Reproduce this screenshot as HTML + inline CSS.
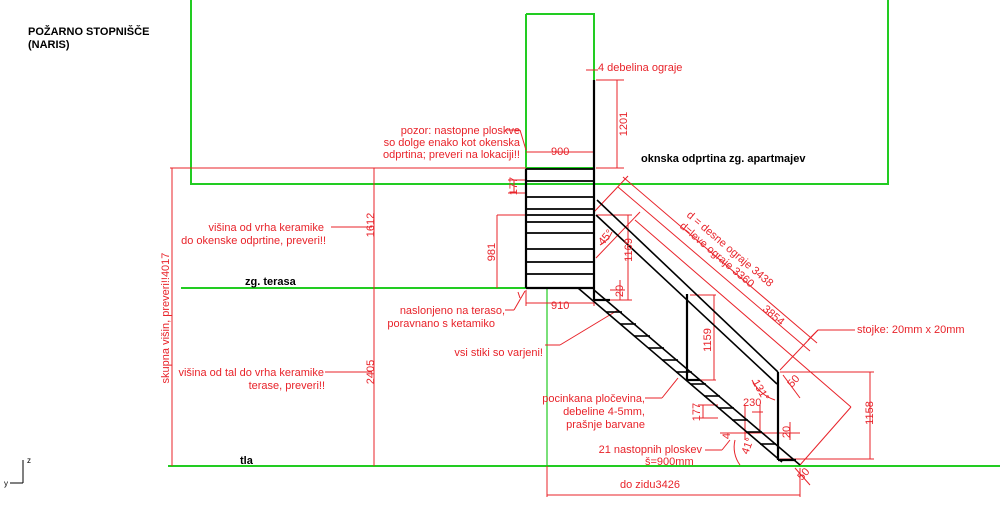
<!DOCTYPE html>
<html><head><meta charset="utf-8"><style>
html,body{margin:0;padding:0;background:#fff;}
svg{display:block;font-family:"Liberation Sans",Arial,sans-serif;}
.r{fill:#e8232a;font-size:11px;}
.b{fill:#000;font-size:11px;font-weight:bold;}
</style></head><body>
<svg width="1000" height="509" viewBox="0 0 1000 509" xmlns="http://www.w3.org/2000/svg">
<g stroke="#22cc22" stroke-width="2" fill="none">
<polyline points="191,0 191,184 888,184 888,0"/>
<polyline points="526,14 526,168 594,168 594,14 526,14"/>
<line x1="181" y1="288" x2="546" y2="288"/>
<line x1="168" y1="466" x2="1000" y2="466"/>
<line x1="547" y1="288" x2="547" y2="466" stroke-width="1.2"/>
</g>
<g stroke="#e8232a" stroke-width="1" fill="none">
<line x1="170" y1="168" x2="526" y2="168"/>
<line x1="172" y1="168" x2="172" y2="466"/>
<line x1="374" y1="168" x2="374" y2="466"/>
<line x1="331" y1="227" x2="372" y2="227"/>
<line x1="325" y1="372" x2="372" y2="372"/>
<line x1="497" y1="215" x2="526" y2="215"/>
<line x1="497" y1="215" x2="497" y2="288"/>
<line x1="508" y1="180" x2="526" y2="180"/><line x1="508" y1="193" x2="526" y2="193"/><line x1="514" y1="180" x2="514" y2="193"/>
<line x1="526" y1="152" x2="594" y2="152"/>
<line x1="596" y1="80" x2="624" y2="80"/><line x1="596" y1="168" x2="624" y2="168"/><line x1="617" y1="80" x2="617" y2="168"/>
<line x1="586" y1="70" x2="598" y2="70"/>
<line x1="505" y1="130" x2="520" y2="130"/><line x1="520" y1="130" x2="526" y2="150"/>
<line x1="526" y1="303" x2="594" y2="303"/><line x1="526" y1="290" x2="526" y2="306"/><line x1="594" y1="290" x2="594" y2="306"/>
<line x1="505" y1="310" x2="514" y2="310"/><line x1="514" y1="310" x2="525" y2="291"/>
<line x1="518" y1="292" x2="520" y2="298"/>
<line x1="597" y1="215" x2="632" y2="215"/><line x1="597" y1="300" x2="632" y2="300"/><line x1="628" y1="215" x2="628" y2="300"/>
<line x1="610" y1="290" x2="625" y2="290"/><line x1="620" y1="280" x2="620" y2="300"/>
<line x1="690" y1="295" x2="716" y2="295"/><line x1="690" y1="380" x2="716" y2="380"/><line x1="714" y1="295" x2="714" y2="380"/>
<line x1="780" y1="372" x2="874" y2="372"/><line x1="780" y1="459" x2="874" y2="459"/><line x1="870" y1="372" x2="870" y2="459"/>
<line x1="623" y1="177" x2="817" y2="343"/>
<line x1="618" y1="187" x2="810" y2="351"/>
<line x1="635" y1="220" x2="851" y2="407"/>
<line x1="851" y1="407" x2="800" y2="465"/>
<line x1="594" y1="212" x2="628" y2="176"/>
<line x1="780" y1="370" x2="818" y2="330"/>
<line x1="596" y1="258" x2="640" y2="212"/>
<line x1="855" y1="330" x2="818" y2="330"/><line x1="818" y1="330" x2="808" y2="340"/>
<line x1="545" y1="345" x2="560" y2="345"/><line x1="560" y1="345" x2="618" y2="310"/>
<line x1="645" y1="398" x2="662" y2="398"/><line x1="662" y1="398" x2="678" y2="378"/>
<line x1="705" y1="450" x2="722" y2="450"/><line x1="722" y1="450" x2="730" y2="440"/>
<line x1="752" y1="412" x2="763" y2="412"/><line x1="745" y1="405" x2="745" y2="440"/><line x1="760" y1="405" x2="760" y2="430"/>
<line x1="698" y1="405" x2="718" y2="405"/><line x1="698" y1="418" x2="718" y2="418"/><line x1="703" y1="405" x2="703" y2="418"/>
<line x1="720" y1="433" x2="800" y2="433"/>
<line x1="790" y1="422" x2="790" y2="440"/>
<line x1="547" y1="466" x2="547" y2="497"/><line x1="547" y1="495" x2="800" y2="495"/><line x1="800" y1="468" x2="800" y2="497"/>
<path d="M752 380 A40 40 0 0 0 775 400"/>
<path d="M740 465 A30 30 0 0 1 735 440"/>
<path d="M600 245 A25 25 0 0 0 612 232"/>
<line x1="783" y1="375" x2="800" y2="398"/>
<line x1="795" y1="468" x2="810" y2="485"/>
</g>
<g stroke="#000" stroke-width="2.2" fill="none">
<line x1="526" y1="169" x2="526" y2="288"/>
<line x1="594" y1="80" x2="594" y2="300"/>
<line x1="526" y1="288" x2="594" y2="288"/>
<line x1="594" y1="300" x2="610" y2="300"/>
<g stroke-width="1.8">
<line x1="526" y1="169" x2="594" y2="169"/><line x1="526" y1="181" x2="594" y2="181"/>
<line x1="526" y1="197" x2="594" y2="197"/><line x1="526" y1="209" x2="594" y2="209"/>
<line x1="526" y1="215" x2="594" y2="215"/><line x1="526" y1="222" x2="594" y2="222"/>
<line x1="526" y1="233" x2="594" y2="233"/><line x1="526" y1="249" x2="594" y2="249"/>
<line x1="526" y1="262" x2="594" y2="262"/><line x1="526" y1="274" x2="594" y2="274"/>
</g>
<line x1="597" y1="200" x2="778" y2="372" stroke-width="1.6"/>
<line x1="596" y1="215" x2="777" y2="384" stroke-width="1.6"/>
<line x1="578" y1="288" x2="782" y2="462" stroke-width="1.6"/>
<line x1="594" y1="290" x2="800" y2="465" stroke-width="1.6"/>
<line x1="687" y1="294" x2="687" y2="380"/>
<line x1="687" y1="380" x2="700" y2="380"/>
<line x1="778" y1="372" x2="778" y2="460"/>
<line x1="778" y1="460" x2="796" y2="460"/>
<g stroke-width="1.6">
<line x1="594" y1="300" x2="610" y2="300"/><line x1="606" y1="312" x2="622" y2="312"/>
<line x1="620" y1="324" x2="636" y2="324"/><line x1="634" y1="336" x2="650" y2="336"/>
<line x1="648" y1="348" x2="664" y2="348"/><line x1="662" y1="360" x2="678" y2="360"/>
<line x1="676" y1="372" x2="692" y2="372"/><line x1="690" y1="384" x2="706" y2="384"/>
<line x1="704" y1="396" x2="720" y2="396"/><line x1="718" y1="408" x2="734" y2="408"/>
<line x1="732" y1="420" x2="748" y2="420"/><line x1="746" y1="432" x2="762" y2="432"/>
<line x1="760" y1="444" x2="776" y2="444"/>
</g>
</g>
<g stroke="#000" stroke-width="1"><line x1="23" y1="460" x2="23" y2="483"/><line x1="10" y1="483" x2="23" y2="483"/></g>
<text x="27" y="463" font-size="8">z</text><text x="4" y="486" font-size="8">y</text>
<text class="b" x="28" y="35">POŽARNO STOPNIŠČE</text>
<text class="b" x="28" y="48">(NARIS)</text>
<text class="b" x="641" y="162">oknska odprtina zg. apartmajev</text>
<text class="b" x="245" y="285">zg. terasa</text>
<text class="b" x="240" y="464">tla</text>
<text class="r" x="598" y="71">4 debelina ograje</text>
<text class="r" x="627" y="124" transform="rotate(-90 627 124)" text-anchor="middle">1201</text>
<text class="r" text-anchor="end" x="520" y="134">pozor: nastopne ploskve</text>
<text class="r" text-anchor="end" x="520" y="146">so dolge enako kot okenska</text>
<text class="r" text-anchor="end" x="520" y="158">odprtina; preveri na lokaciji!!</text>
<text class="r" x="551" y="155">900</text>
<text class="r" x="517" y="186" transform="rotate(-90 517 186)" text-anchor="middle">177</text>
<text class="r" x="374" y="225" transform="rotate(-90 374 225)" text-anchor="middle">1612</text>
<text class="r" text-anchor="end" x="324" y="231">višina od vrha keramike</text>
<text class="r" text-anchor="end" x="326" y="244">do okenske odprtine, preveri!!</text>
<text class="r" x="495" y="252" transform="rotate(-90 495 252)" text-anchor="middle">981</text>
<text class="r" x="169" y="318" transform="rotate(-90 169 318)" text-anchor="middle">skupna višin, preveri!!4017</text>
<text class="r" text-anchor="end" x="505" y="314">naslonjeno na teraso,</text>
<text class="r" text-anchor="end" x="495" y="327">poravnano s ketamiko</text>
<text class="r" x="551" y="309">910</text>
<text class="r" x="632" y="250" transform="rotate(-90 632 250)" text-anchor="middle">1169</text>
<text class="r" x="623" y="291" transform="rotate(-90 623 291)" text-anchor="middle">20</text>
<text class="r" x="603" y="246" transform="rotate(-50 603 246)">45°</text>
<text class="r" text-anchor="end" x="543" y="356">vsi stiki so varjeni!</text>
<text class="r" text-anchor="end" x="324" y="376">višina od tal do vrha keramike</text>
<text class="r" text-anchor="end" x="325" y="389">terase, preveri!!</text>
<text class="r" x="374" y="372" transform="rotate(-90 374 372)" text-anchor="middle">2405</text>
<text class="r" x="711" y="340" transform="rotate(-90 711 340)" text-anchor="middle">1159</text>
<text class="r" text-anchor="end" x="645" y="402">pocinkana pločevina,</text>
<text class="r" text-anchor="end" x="645" y="415">debeline 4-5mm,</text>
<text class="r" text-anchor="end" x="645" y="428">prašnje barvane</text>
<text class="r" x="743" y="406">230</text>
<text class="r" x="700" y="412" transform="rotate(-90 700 412)" text-anchor="middle">177</text>
<text class="r" x="730" y="436" transform="rotate(-90 730 436)" text-anchor="middle">4</text>
<text class="r" x="790" y="432" transform="rotate(-90 790 432)" text-anchor="middle">20</text>
<text class="r" text-anchor="end" x="702" y="453">21 nastopnih ploskev</text>
<text class="r" x="645" y="465">š=900mm</text>
<text class="r" x="748" y="455" transform="rotate(-70 748 455)">41°</text>
<text class="r" x="752" y="382" transform="rotate(60 752 382)">131°</text>
<text class="r" x="792" y="388" transform="rotate(-48 792 388)">50</text>
<text class="r" x="802" y="481" transform="rotate(-48 802 481)">50</text>
<text class="r" x="857" y="333">stojke: 20mm x 20mm</text>
<text class="r" x="873" y="413" transform="rotate(-90 873 413)" text-anchor="middle">1158</text>
<text class="r" x="620" y="488">do zidu3426</text>
<text class="r" x="686" y="216" transform="rotate(40.5 686 216)">d = desne ograje 3438</text>
<text class="r" x="679" y="227" transform="rotate(40.5 679 227)">d=leve ograje 3360</text>
<text class="r" x="762" y="310" transform="rotate(40.5 762 310)">3854</text>
</svg>
</body></html>
